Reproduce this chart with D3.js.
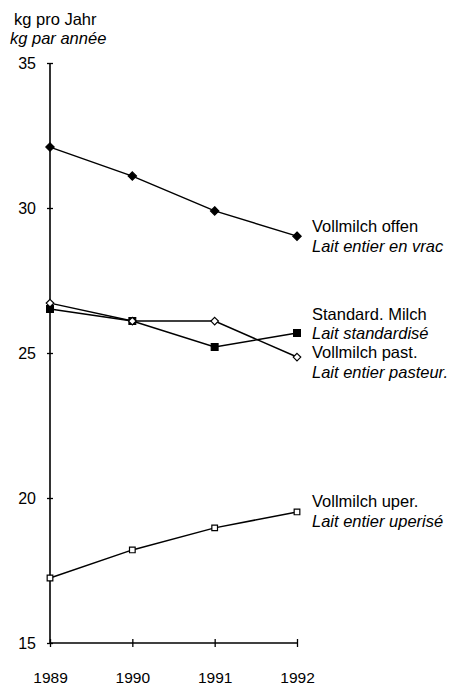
<!DOCTYPE html>
<html>
<head>
<meta charset="utf-8">
<script src="https://cdn.jsdelivr.net/npm/d3@7"></script>
<style>
  body { margin: 0; background: #fff; }
  svg text { font-family: "Liberation Sans", Arial, Helvetica, sans-serif; fill: #000; }
</style>
</head>
<body>
<svg id="chart" width="449" height="686"></svg>
<script>
// data
const years = [1989, 1990, 1991, 1992];
const vollmilchOffen = [32.1, 31.1, 29.9, 29.03];
const standardMilch = [26.52, 26.1, 25.21, 25.69];
const vollmilchPast = [26.72, 26.1, 26.1, 24.86];
const vollmilchUper = [17.24, 18.21, 18.97, 19.52];
const yTicks = [15, 20, 25, 30, 35];

const seriesNames = [
    ["Vollmilch offen", "Lait entier en vrac"],
    ["Standard. Milch", "Lait standardisé"],
    ["Vollmilch past.", "Lait entier pasteur."],
    ["Vollmilch uper.", "Lait entier uperisé"]
];

var svg = d3.select("#chart");

const x = d3.scaleLinear().domain([1989, 1992]).range([50, 297]);
const y = d3.scaleLinear().domain([15, 35]).range([643, 63]);

//axis titles
svg.append("text").attr("x", 14).attr("y", 25).style("font-size", "16.5px").text("kg pro Jahr");
svg.append("text").attr("x", 10).attr("y", 44).style("font-size", "16.5px")
    .style("font-style", "italic").text("kg par année");

//y axis with cross ticks
var leftAxis = d3.axisLeft(y).tickValues(yTicks).tickSize(3).tickPadding(11);
var gy = svg.append("g").attr("transform", "translate(" + x(1989) + ",0)").call(leftAxis);
gy.select(".domain").attr("d", "M0," + y(35) + "V" + y(15)).attr("stroke-width", 1.6);
gy.selectAll(".tick line").attr("x1", 3).attr("x2", -3).attr("stroke-width", 1.3);
gy.selectAll(".tick text").style("font-size", "16px").attr("font-family", null);

//x axis with cross ticks
var bottomAxis = d3.axisBottom(x).tickValues(years).tickFormat(d3.format("d")).tickSize(3);
var gx = svg.append("g").attr("transform", "translate(0," + y(15) + ")").call(bottomAxis);
gx.select(".domain").attr("d", "M" + x(1989) + ",0H" + x(1992)).attr("stroke-width", 1.6);
gx.selectAll(".tick line").attr("y1", -4).attr("y2", 4).attr("stroke-width", 1.3);
gx.selectAll(".tick text").attr("y", 29).style("font-size", "15.5px").attr("font-family", null);

const allSeries = [
    { values: vollmilchOffen, marker: "diamond", filled: true },
    { values: standardMilch, marker: "square", filled: true },
    { values: vollmilchPast, marker: "diamond", filled: false },
    { values: vollmilchUper, marker: "square", filled: false }
];

const line = d3.line().x((d, i) => x(years[i])).y(d => y(d));

allSeries.forEach((s) => {
    svg.append("path")
        .datum(s.values)
        .attr("d", line)
        .attr("fill", "none")
        .attr("stroke", "#000")
        .attr("stroke-width", 1.5);
});

allSeries.forEach((s) => {
    var sym = s.marker == "diamond"
        ? d3.symbol().type(d3.symbolDiamond2).size(s.filled ? 44 : 36)
        : d3.symbol().type(d3.symbolSquare).size(s.filled ? 46 : 32);
    svg.append("g").selectAll("path")
        .data(s.values)
        .enter()
        .append("path")
        .attr("d", sym)
        .attr("transform", (d, i) => "translate(" + x(years[i]) + "," + y(d) + ")")
        .attr("fill", s.filled ? "#000" : "#fff")
        .attr("stroke", "#000")
        .attr("stroke-width", 1.2);
});

//series labels at the right end
const labelY = [[232, 252], [320, 339], [358, 378], [507, 527]];
seriesNames.forEach((names, i) => {
    svg.append("text").attr("x", 312).attr("y", labelY[i][0]).style("font-size", "16.5px").text(names[0]);
    svg.append("text").attr("x", 312).attr("y", labelY[i][1]).style("font-size", "16.5px")
        .style("font-style", "italic").text(names[1]);
});
</script>
</body>
</html>
